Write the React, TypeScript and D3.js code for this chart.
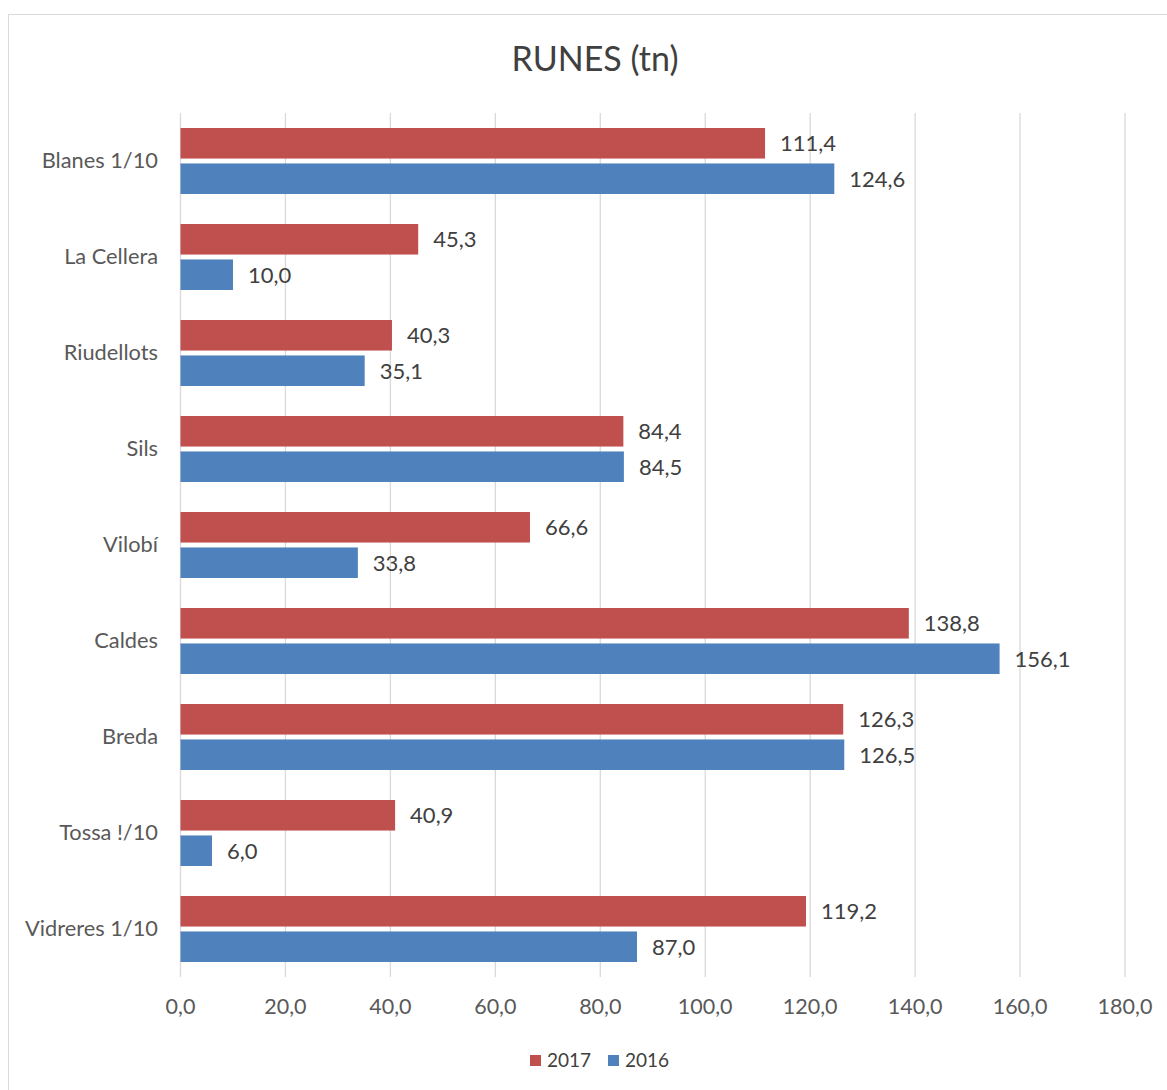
import React from "react";
import * as d3 from "d3";

const categories = ["Blanes 1/10", "La Cellera", "Riudellots", "Sils", "Vilobí", "Caldes", "Breda", "Tossa !/10", "Vidreres 1/10"];
const values2017 = [111.4, 45.3, 40.3, 84.4, 66.6, 138.8, 126.3, 40.9, 119.2];
const values2016 = [124.6, 10.0, 35.1, 84.5, 33.8, 156.1, 126.5, 6.0, 87.0];
const xTicks = [0, 20, 40, 60, 80, 100, 120, 140, 160, 180];
const seriesNames = ["2017", "2016"];
const seriesColors = ["#C0504D", "#4F81BD"];
const title = "RUNES (tn)";

const W = 1167;
const H = 1090;
const FONT = "Lato, 'Open Sans', sans-serif";
const fmt = (v: number) => v.toFixed(1).replace(".", ",");

export default function App() {
  const x = d3.scaleLinear().domain([0, 180]).range([180.5, 1125]);
  const y = d3.scaleBand().domain(categories).range([113, 977]).paddingInner(0).paddingOuter(0);
  const inner = d3.scaleBand().domain(seriesNames).range([15, 81]).paddingInner(5 / 36);
  const bh = inner.bandwidth();
  const series = [values2017, values2016];

  return (
    <svg width={W} height={H} style={{ position: "absolute", left: 0, top: 0, background: "#fff" }} fontFamily={FONT}>
      <rect x={8.5} y={14.5} width={1200} height={1200} fill="#fff" stroke="#d9d9d9" strokeWidth={1} />
      <text x={595} y={71} textAnchor="middle" fontSize={34} fill="#404040">{title}</text>
      {xTicks.map((t) => (
        <g key={t}>
          <line x1={x(t)} x2={x(t)} y1={113} y2={977} stroke="#d9d9d9" strokeWidth={1.3} />
          <text x={x(t)} y={1014} textAnchor="middle" fontSize={21.5} fill="#595959">{fmt(t)}</text>
        </g>
      ))}
      {categories.map((c, i) => (
        <g key={c}>
          <text x={158} y={(y(c) as number) + y.bandwidth() / 2 + 7} textAnchor="end" fontSize={21.8} fill="#595959">{c}</text>
          {series.map((vals, s) => {
            const yy = (y(c) as number) + (inner(seriesNames[s]) as number);
            return (
              <g key={s}>
                <rect x={x(0)} y={yy} width={x(vals[i]) - x(0)} height={bh} fill={seriesColors[s]} />
                <text x={x(vals[i]) + 15} y={yy + bh / 2 + 8} fontSize={22} fill="#404040">{fmt(vals[i])}</text>
              </g>
            );
          })}
        </g>
      ))}
      <g>
        <rect x={530} y={1055} width={11} height={11} fill={seriesColors[0]} />
        <text x={547} y={1067} fontSize={19} fill="#404040">{seriesNames[0]}</text>
        <rect x={608} y={1055} width={11} height={11} fill={seriesColors[1]} />
        <text x={625} y={1067} fontSize={19} fill="#404040">{seriesNames[1]}</text>
      </g>
    </svg>
  );
}
